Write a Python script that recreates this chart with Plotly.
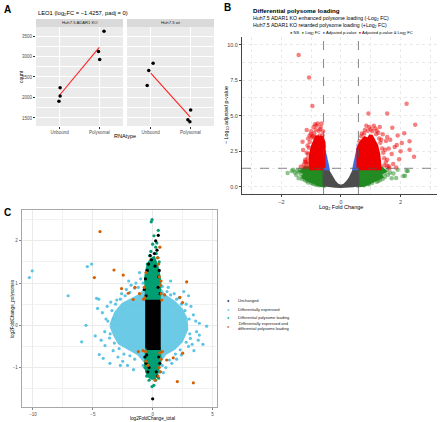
import plotly.graph_objects as go

W, H = 440, 422
def px(x): return x / W
def py(y): return 1 - y / H

FONT = "Liberation Sans, Arial, sans-serif"

# ---------------- Panel A data ----------------
a_categories = ["Unbound", "Polysomal"]
a_ko_x = [1.01, 1.01, 0.98, 2.12, 1.98, 2.01]
a_ko_count = [2235, 2039, 1909, 3615, 3122, 2926]
a_wt_x = [1.06, 0.95, 0.91, 2.01, 1.94, 1.99]
a_wt_count = [2838, 2657, 2294, 1696, 1458, 1409]
a_facets = ["Huh7.5 ADAR1 KO", "Huh7.5 wt"]

# ---------------- Panel B data ----------------
b_fc_cut = 0.585
b_p_cut = 1.301
b_gray_x = [-0.585, -0.45, -0.4, -0.3, -0.2, -0.1, 0.0, 0.1, 0.2, 0.3, 0.4, 0.45, 0.585, 0.585, 0.4, 0.2, 0.0, -0.2, -0.4, -0.585]
b_gray_y = [1.3, 1.3, 1.05, 0.65, 0.35, 0.15, 0.07, 0.15, 0.35, 0.65, 1.05, 1.3, 1.3, 0.1, 0.04, 0.0, -0.02, 0.0, 0.04, 0.1]
b_blue_l_x = [-0.585, -0.585, -0.55, -0.5, -0.45]
b_blue_l_y = [1.3, 2.6, 2.25, 1.8, 1.3]
b_blue_r_x = [0.585, 0.585, 0.55, 0.5, 0.45]
b_blue_r_y = [1.3, 2.7, 2.3, 1.85, 1.3]
b_blue_pts_x = [-0.57, -0.6, -0.53, -0.5, -0.47, 0.58, 0.6, 0.54, 0.5, 0.47]
b_blue_pts_y = [2.85, 2.55, 2.1, 1.75, 1.5, 2.9, 2.6, 2.2, 1.8, 1.5]
b_green_l_x = [-0.585, -1.2, -1.3, -1.2, -1.25, -1.05, -0.9, -0.8, -0.65, -0.585]
b_green_l_y = [1.3, 1.3, 1.1, 0.95, 0.7, 0.45, 0.35, 0.22, 0.12, 0.1]
b_green_r_x = [0.585, 1.35, 1.45, 1.3, 1.35, 1.1, 0.95, 0.85, 0.68, 0.585]
b_green_r_y = [1.3, 1.3, 1.1, 0.95, 0.7, 0.45, 0.35, 0.22, 0.12, 0.1]
b_green_pts_x = [-1.79, -1.47, -1.4, -1.29, -1.21, -1.6, -1.55, -1.5, -1.42, -1.1, -0.95, -0.8, -1.65, -1.38,
                 -1.35, -1.3, -1.15, -1.0, -0.88, -0.72,
                 2.24, 2.15, 1.76, 1.53, 1.48, 1.31, 2.2, 2.09, 1.9, 1.65, 1.7, 1.2, 0.95, 0.75,
                 1.45, 1.4, 1.25, 1.05, 0.9, 0.78, 1.58, 1.85]
b_green_pts_y = [0.96, 1.1, 1.06, 0.7, 0.47, 1.2, 1.0, 0.82, 0.6, 0.3, 0.22, 0.12, 1.1, 1.18,
                 0.9, 0.55, 0.4, 0.28, 0.18, 0.1,
                 1.1, 0.77, 0.94, 1.17, 0.7, 0.47, 1.13, 0.75, 1.2, 1.0, 0.6, 0.35, 0.22, 0.12,
                 0.95, 0.55, 0.4, 0.28, 0.18, 0.1, 0.85, 0.62]
b_red_l_x = [-0.585, -0.585, -0.65, -0.72, -0.8, -0.88, -0.95, -1.0, -1.02, -1.0]
b_red_l_y = [1.3, 3.1, 3.5, 3.3, 3.55, 3.2, 2.8, 2.3, 1.8, 1.3]
b_red_r_x = [0.585, 0.585, 0.68, 0.8, 0.92, 1.0, 1.1, 1.18, 1.25, 1.3]
b_red_r_y = [1.3, 2.7, 3.1, 3.4, 3.3, 3.6, 3.2, 2.9, 2.3, 1.3]
b_red_pts_x = [-1.42, -1.07, -0.96, -0.87, -1.15, -1.29, -1.27, -1.21, -1.35, -0.65, -0.78, -0.92, -0.7, -1.0,
               -0.85, -1.1, -1.12, -1.15, -1.2, -1.25, -1.22, -1.1, -0.62, -1.05, -0.95,
               -0.6, -0.68, -0.75, -0.82, -0.9, -0.98, -1.05, -1.08, -1.1, -1.12, -1.15, -1.1, -1.18, -1.0, -0.72, -0.88,
               0.92, 1.55, 2.2, 2.49, 2.12, 2.04, 1.87, 2.45, 1.95, 1.51, 1.72, 1.3, 1.1, 1.0, 0.8, 0.7,
               1.4, 1.55, 1.6, 1.7, 1.55, 1.75, 1.6, 1.48, 1.35, 1.2, 0.95, 1.45, 1.85,
               0.62, 0.68, 0.78, 0.9, 1.05, 1.18, 1.28, 1.32, 1.38, 1.42, 1.45, 1.5, 1.55, 1.25, 0.85, 1.15,
               1.65, 1.8, 2.3, 2.3, 1.9, 2.0, 1.62]
b_red_pts_y = [9.27, 7.68, 5.68, 4.39, 3.99, 3.17, 2.58, 1.76, 1.41, 4.46, 4.45, 4.2, 4.05, 3.9,
               4.0, 3.4, 2.9, 2.4, 1.9, 1.55, 1.35, 1.7, 3.6, 3.6, 3.55,
               3.9, 4.2, 3.95, 4.3, 3.75, 3.45, 3.15, 2.75, 2.3, 2.0, 1.6, 1.4, 1.75, 3.7, 3.6, 3.5,
               5.15, 5.15, 5.85, 4.37, 3.76, 3.08, 2.94, 2.11, 1.93, 3.22, 4.15, 4.2, 4.3, 4.05, 4.0, 3.75,
               3.7, 3.5, 2.7, 2.3, 1.9, 1.6, 1.45, 2.6, 3.3, 3.95, 4.2, 1.5, 1.35,
               3.2, 3.55, 3.75, 3.95, 3.9, 3.7, 3.4, 3.1, 2.7, 2.4, 2.0, 1.7, 1.45, 3.8, 4.3, 4.1,
               3.3, 2.8, 2.6, 3.2, 3.6, 2.5, 1.3]

# ---------------- Panel C data ----------------
c_black_core_x = [-0.5, 0.55, 0.55, -0.5]
c_black_core_y = [-0.55, -0.55, 0.57, 0.57]
c_green_up_x = [-0.5, -0.55, -0.6, -0.5, -0.35, -0.15, 0.1, 0.3, 0.45, 0.6, 0.6, 0.55]
c_green_up_y = [0.57, 0.9, 1.1, 1.3, 1.45, 1.55, 1.6, 1.45, 1.3, 1.05, 0.8, 0.57]
c_green_dn_x = [-0.5, -0.55, -0.6, -0.5, -0.35, -0.1, 0.15, 0.35, 0.5, 0.6, 0.6, 0.55]
c_green_dn_y = [-0.55, -0.8, -0.95, -1.1, -1.2, -1.25, -1.25, -1.15, -1.0, -0.85, -0.7, -0.55]
c_green_pts_x = [-0.05, -0.12, 0.47, 0.11, 0.0, 0.25, -0.15, 0.35, -0.25, 0.3, 0.45, -0.45, 0.55,
                 -0.05, 0.1, 0.25, -0.3, 0.5, -0.5, 0.6, -0.65]
c_green_pts_y = [2.5, 2.45, 2.25, 2.12, 1.92, 1.85, 1.75, 1.95, 1.65, 1.7, 1.6, 1.45, 1.5,
                 -1.45, -1.42, -1.3, -1.3, -1.25, -1.2, -1.1, -1.0]
c_cyan_x = [-3.5, -3.1, -2.5, -1.8, -1.0, -0.5, 0.0, 0.5, 1.0, 1.8, 2.4, 2.8, 2.85, 2.4, 1.8, 1.0, 0.5, 0.0, -0.5, -1.2, -2.0, -2.8, -3.2]
c_cyan_y = [0.0, 0.3, 0.5, 0.6, 0.72, 0.9, 0.95, 0.9, 0.7, 0.55, 0.38, 0.15, -0.1, -0.38, -0.55, -0.68, -0.9, -0.95, -0.9, -0.68, -0.55, -0.42, -0.22]
c_cyan_pts_x = [-10.3, -10.06, -7.06, -5.57, -5.93, -5.46, -5.1, -4.68, -4.46, -3.98, -3.57, -4.13, -4.5, -4.2,
                -3.9, -4.0, -3.8, -3.5, -3.3, -2.9, -2.5, -2.1, -3.0, -2.6, -2.2, -1.8, -1.4, -1.0, -4.8, -3.6,
                4.51, 3.9, 3.81, 3.67, 3.15, 3.4, 3.6, 3.2, 3.0, 2.8, 2.4, 2.0, 1.6, 1.3, 1.8, 2.2, 3.45, 3.9, 1.1, 4.2,
                -3.4, -3.1, -2.7, -2.3, -1.9, -1.5, -1.2, -0.8, 0.8, 1.2, 1.5, 2.0, 2.4, 2.7, 3.05, 3.1, 2.8, 2.3,
                1.9, 1.4, 0.8, -0.8, -1.5, -1.9, -2.4, -2.8, -3.2, -3.55, -3.75, -3.3, -2.0, -1.1, 1.5, 2.6, 3.3,
                -2.7, -1.6, 0.9, 3.0, -4.3, -4.6]
c_cyan_pts_y = [1.13, 1.29, 0.7, 0.0, -0.39, 1.39, 1.45, 0.64, -0.69, -0.48, -0.9, -0.78, 0.62, 0.3,
                0.15, -0.15, 0.45, 0.55, -0.6, -0.75, -0.85, -0.95, 0.6, 0.75, 0.85, 0.95, 1.0, 1.1, -0.25, -0.3,
                -0.02, -0.23, -0.35, -0.15, -0.31, 0.25, 0.1, 0.45, -0.5, 0.5, -0.7, -0.8, -0.9, 0.9, 0.75, 0.65, -0.6, 0.05, -1.0, -0.45,
                0.35, 0.5, 0.62, 0.7, 0.78, 0.88, 0.9, 1.0, 0.92, 0.8, 0.72, 0.62, 0.5, 0.35, 0.15, -0.2, -0.4, -0.58,
                -0.68, -0.82, -0.95, -0.95, -0.8, -0.72, -0.68, -0.55, -0.42, -0.2, 0.1, 0.15, 1.05, 1.25, 1.05, 0.8, -0.45,
                -0.95, -1.05, -1.12, 0.7, -0.35, 0.4]
c_black_pts_x = [0.0, 0.47, 0.36, -0.35, 0.2, -0.6, 0.5, -0.7, 0.45, -0.5, 0.5, -0.3, 0.3, -0.55, 0.4, -0.45,
                 -0.2, 0.15, -0.65, 0.6, -0.4, 0.25, -0.1, 0.55, -0.55, 0.62]
c_black_pts_y = [-1.74, 2.13, 1.78, 1.45, 1.4, 1.1, 1.15, 0.85, 0.9, -0.7, -0.75, -1.0, -1.1, -0.9, -1.2, 1.3,
                 1.65, 1.7, -0.75, -0.9, -1.1, 2.0, 1.55, 1.3, 0.7, 0.75]
c_orange_x = [-4.4, -4.87, -3.23, -2.46, -2.6, -2.04, -1.48, -1.62, 2.84, 2.28, 2.5, 2.06, 3.4, 1.72, 2.51, 1.17,
              -0.55, 0.55, 0.65, 0.7, -0.7, -0.65, -0.6, 0.6, 0.7, -0.55, 0.65, 0.45, -0.4, 0.5, 0.4, 0.7,
              -0.75, 0.75, -0.8, 0.8, 0.55, 1.0, -1.1, 0.2, 0.6, -1.2]
c_orange_y = [2.22, 1.13, 1.31, 1.19, 0.87, 0.76, 0.9, 0.61, 1.03, 0.66, 0.54, -1.33, -1.36, -0.77, -0.66, -0.82,
              1.25, 1.15, 0.95, 0.75, 0.9, 0.65, -0.62, -0.65, -0.8, -0.85, -1.1, -1.2, -0.95, 1.45, 1.6, 1.05,
              0.62, 0.6, -0.6, -0.62, -1.0, 0.72, 0.75, -1.3, 1.85, -0.62]
c_legend_labels = ["Unchanged", "Differentially expressed", "Differential polysome loading",
                   "Differentially expressed and<br>differential polysome loading"]
c_colors = ["#000000", "#5BC5E3", "#009E73", "#D55E00"]

GREY30, FGREEN, RBLUE, RED2 = "#4D4D4D", "#228B22", "#4169E1", "#EE0000"

fig = go.Figure()

# ---- Panel A traces ----
def mean(v): return sum(v) / len(v)
for xs, ys, xa, ya in [(a_ko_x, a_ko_count, "x", "y"), (a_wt_x, a_wt_count, "x2", "y2")]:
    fig.add_trace(go.Scatter(x=[1, 2], y=[mean(ys[:3]), mean(ys[3:])], mode="lines",
                             line=dict(color="#FF2020", width=1.1), xaxis=xa, yaxis=ya, showlegend=False))
    fig.add_trace(go.Scatter(x=xs, y=ys, mode="markers", marker=dict(color="black", size=3.5),
                             xaxis=xa, yaxis=ya, showlegend=False))

# ---- Panel B traces ----
def poly(xs, ys, color, width=4, xa="x3", ya="y3", op=1):
    fig.add_trace(go.Scatter(x=xs + xs[:1], y=ys + ys[:1], mode="lines", fill="toself",
                             fillcolor=color, line=dict(color=color, width=width), opacity=op,
                             xaxis=xa, yaxis=ya, showlegend=False, hoverinfo="skip"))
def pts(xs, ys, color, op=0.5, size=4.5, xa="x3", ya="y3"):
    fig.add_trace(go.Scatter(x=xs, y=ys, mode="markers", marker=dict(color=color, size=size, opacity=op, line=dict(width=0)),
                             xaxis=xa, yaxis=ya, showlegend=False))

poly(b_green_l_x, b_green_l_y, FGREEN)
poly(b_green_r_x, b_green_r_y, FGREEN)
pts(b_green_pts_x, b_green_pts_y, FGREEN)
poly(b_gray_x, b_gray_y, GREY30, 2)
poly(b_blue_l_x, b_blue_l_y, RBLUE)
poly(b_blue_r_x, b_blue_r_y, RBLUE)
pts(b_blue_pts_x, b_blue_pts_y, RBLUE)
poly(b_red_l_x, b_red_l_y, RED2)
poly(b_red_r_x, b_red_r_y, RED2)
pts(b_red_pts_x, b_red_pts_y, RED2)

# ---- Panel C traces ----
poly(c_cyan_x, c_cyan_y, c_colors[1], 3, "x4", "y4", 0.9)
pts(c_cyan_pts_x, c_cyan_pts_y, c_colors[1], 1, 3.2, "x4", "y4")
poly(c_green_up_x, c_green_up_y, c_colors[2], 3, "x4", "y4")
poly(c_green_dn_x, c_green_dn_y, c_colors[2], 3, "x4", "y4")
pts(c_green_pts_x, c_green_pts_y, c_colors[2], 1, 3.2, "x4", "y4")
poly(c_black_core_x, c_black_core_y, c_colors[0], 3, "x4", "y4")
pts(c_black_pts_x, c_black_pts_y, c_colors[0], 1, 3.2, "x4", "y4")
pts(c_orange_x, c_orange_y, c_colors[3], 1, 3.2, "x4", "y4")

# ---- Layout / axes ----
tick_font = dict(family=FONT, size=4.5, color="#4D4D4D")
a_yrange = [1304, 3720]
axA = dict(range=[0.4, 2.6], tickvals=[1, 2], ticktext=a_categories, showgrid=True, gridcolor="white",
           gridwidth=1, zeroline=False, ticks="outside", ticklen=2, tickcolor="#333", tickfont=tick_font, fixedrange=True)
ayA = dict(range=a_yrange, tick0=1500, dtick=500, showgrid=True, gridcolor="white", gridwidth=1, zeroline=False,
           minor=dict(dtick=250, showgrid=True, gridcolor="white", gridwidth=0.5), tickfont=tick_font)
gridB = dict(showgrid=True, gridcolor="#E9E9E9", griddash="dot", gridwidth=0.6, zeroline=False,
             showline=True, linecolor="#444", linewidth=1, ticks="outside", ticklen=2, tickcolor="#444",
             tickfont=dict(family=FONT, size=5.5, color="#444"))
gridC = dict(showgrid=True, gridcolor="#EBEBEB", gridwidth=0.8, zeroline=False,
             showline=True, mirror=True, linecolor="#A8A8A8", linewidth=1, ticks="outside", ticklen=2,
             tickcolor="#888", tickfont=tick_font)
fig.update_layout(
    width=W, height=H, autosize=False, margin=dict(l=0, r=0, t=0, b=0),
    paper_bgcolor="white", plot_bgcolor="white", showlegend=False,
    font=dict(family=FONT, color="black"),
    xaxis=dict(domain=[px(36), px(123)], anchor="y", **axA),
    yaxis=dict(domain=[py(126), py(27)], anchor="x", ticks="outside", ticklen=2, tickcolor="#333", **ayA),
    xaxis2=dict(domain=[px(127), px(214)], anchor="y2", **axA),
    yaxis2=dict(domain=[py(126), py(27)], anchor="x2", showticklabels=False, ticks="", **ayA),
    xaxis3=dict(domain=[px(242), px(437)], anchor="y3", range=[-3.32, 3.22], tick0=-2, dtick=2,
                minor=dict(dtick=1, showgrid=True, gridcolor="#E9E9E9", griddash="dot", gridwidth=0.6), **gridB),
    yaxis3=dict(domain=[py(194), py(36.7)], anchor="x3", range=[-0.51, 10.56], tick0=0, dtick=2.5, tickformat=".1f",
                minor=dict(dtick=1.25, showgrid=True, gridcolor="#E9E9E9", griddash="dot", gridwidth=0.6), **gridB),
    xaxis4=dict(domain=[px(21.7), px(217.3)], anchor="y4", range=[-10.94, 5.40], tick0=0, dtick=5,
                minor=dict(dtick=2.5, showgrid=True, gridcolor="#F2F2F2", gridwidth=0.5), **gridC),
    yaxis4=dict(domain=[py(407.3), py(210)], anchor="x4", range=[-1.94, 2.73], tick0=0, dtick=1,
                minor=dict(dtick=0.5, showgrid=True, gridcolor="#F2F2F2", gridwidth=0.5), **gridC),
)

shapes = []
for xr, yr in [("x", "y"), ("x2", "y2")]:
    shapes.append(dict(type="rect", xref=f"{xr} domain", yref=f"{yr} domain", x0=0, x1=1, y0=0, y1=1,
                       fillcolor="#EBEBEB", line=dict(width=0), layer="below"))
    shapes.append(dict(type="rect", xref=f"{xr} domain", yref="paper", x0=0, x1=1, y0=py(27), y1=py(19),
                       fillcolor="#D9D9D9", line=dict(width=0), layer="below"))
for xv in [-b_fc_cut, b_fc_cut]:
    shapes.append(dict(type="line", xref="x3", yref="y3 domain", x0=xv, x1=xv, y0=0, y1=1,
                       line=dict(color="#555", width=0.7, dash="dash")))
shapes.append(dict(type="line", xref="x3 domain", yref="y3", x0=0, x1=1, y0=b_p_cut, y1=b_p_cut,
                   line=dict(color="#555", width=0.7, dash="dash")))
fig.update_layout(shapes=shapes)

ann = []
def txt(x, y, t, size, xanchor="left", yanchor="middle", bold=False, color="black", angle=0):
    if bold:
        t = f"<b>{t}</b>"
    ann.append(dict(x=px(x), y=py(y), xref="paper", yref="paper", text=t, showarrow=False, xanchor=xanchor,
                    yanchor=yanchor, textangle=angle, font=dict(family=FONT, size=size, color=color)))

# panel letters
txt(2, 9, "A", 10, bold=True)
txt(222, 7, "B", 10, bold=True)
txt(2, 212, "C", 10, bold=True)
# Panel A texts
txt(36, 13, "LEO1 (log<sub>2</sub>FC = \u22121.4257, padj = 0)", 5.8)
txt(79.5, 23, a_facets[0], 4.2, xanchor="center", color="#1A1A1A")
txt(170.5, 23, a_facets[1], 4.2, xanchor="center", color="#1A1A1A")
txt(125, 136, "RNAtype", 5.5, xanchor="center")
txt(20.5, 76.5, "count", 5, xanchor="center", angle=-90)
# Panel B texts
txt(251, 11, "Differential polysome loading", 6.2, bold=True)
txt(251, 18.5, "Huh7.5 ADAR1 KO enhanced polysome loading (-Log<sub>2</sub> FC)", 5.2)
txt(251, 25.5, "Huh7.5 ADAR1 KO retarded polysome loading (+Log<sub>2</sub> FC)", 5.2)
leg_b = (f'<span style="color:{GREY30}">\u25CF</span> NS  '
         f'<span style="color:{FGREEN}">\u25CF</span> Log<sub>2</sub> FC  '
         f'<span style="color:{RBLUE}">\u25CF</span> Adjusted p-value  '
         f'<span style="color:{RED2}">\u25CF</span> Adjusted p-value &amp; Log<sub>2</sub> FC')
txt(351, 33.3, leg_b, 4.1, xanchor="center")
txt(341, 207.5, "Log<sub>2</sub> Fold Change", 5.5, xanchor="center")
txt(227, 115, "\u2212 Log<sub>10</sub> adjusted p-value", 5.3, xanchor="center", angle=-90)
# Panel C texts
txt(152, 418.3, "log2FoldChange_total", 4.6, xanchor="center")
txt(12, 309, "log2FoldChange_polysomes", 4.6, xanchor="center", angle=-90)
c_leg_y = [300, 309, 317.7, 326.3]
for lab, col, yy in zip(c_legend_labels, c_colors, c_leg_y):
    txt(228.3, yy, f'<span style="color:{col}">\u25CF</span>', 4, xanchor="center")
    txt(235.5, yy, lab, 4, color="#1A1A1A")
fig.update_layout(annotations=ann)

fig.write_html("out.html")
